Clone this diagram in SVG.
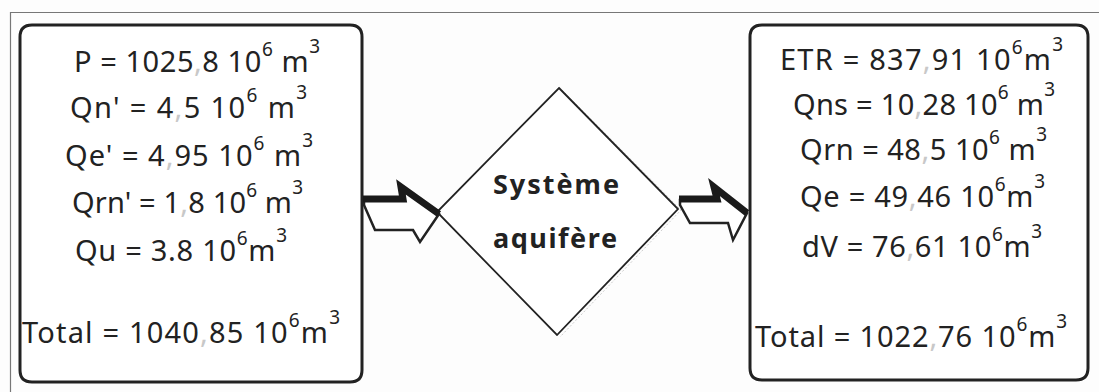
<svg xmlns="http://www.w3.org/2000/svg" width="1099" height="392" viewBox="0 0 1099 392">
  <style>
    .frame { fill: none; stroke: #777; stroke-width: 1.2; }
    .box { fill: #fff; stroke: #222; stroke-width: 3; }
    .diamond { fill: #fff; stroke: #222; stroke-width: 1.8; }
    .t { font-family: "Noto Sans", "DejaVu Sans", sans-serif; font-size: 29px; fill: #222; }
    .sup { font-size: 19px; }
    .sep { fill: #c8c8c8; }
    .lbl { font-family: "Noto Sans", "DejaVu Sans", sans-serif; font-size: 27px; font-weight: bold; fill: #222; }
    .arrow-body { fill: #fff; stroke: #222; stroke-width: 2.5; stroke-linejoin: miter; }
    .arrow-edge { fill: none; stroke: #1a1a1a; stroke-width: 7; stroke-linejoin: miter; }
  </style>

  <rect width="1099" height="392" fill="#fdfdfd"/>

  <!-- outer page frame -->
  <path class="frame" d="M10.5,392 V12.5 H1099"/>

  <!-- inflows -->
  <g id="inflows">
    <path class="box" d="M32,25 H350 Q362,25 362,37 V370 Q362,382 350,382 H32 Q20,382 20,370 V37 Q20,25 32,25 Z"/>
    <text class="t" x="74" y="72" textLength="246" lengthAdjust="spacing">P = 1025<tspan class="sep">,</tspan>8 10<tspan class="sup" dy="-16">6</tspan><tspan dy="16"> m</tspan><tspan class="sup" dy="-19">3</tspan></text>
    <text class="t" x="70" y="118" textLength="237" lengthAdjust="spacing">Qn' = 4<tspan class="sep">,</tspan>5 10<tspan class="sup" dy="-16">6</tspan><tspan dy="16"> m</tspan><tspan class="sup" dy="-19">3</tspan></text>
    <text class="t" x="65" y="166" textLength="248" lengthAdjust="spacing">Qe' = 4<tspan class="sep">,</tspan>95 10<tspan class="sup" dy="-16">6</tspan><tspan dy="16"> m</tspan><tspan class="sup" dy="-19">3</tspan></text>
    <text class="t" x="72" y="213" textLength="231" lengthAdjust="spacing">Qrn' = 1<tspan class="sep">,</tspan>8 10<tspan class="sup" dy="-16">6</tspan><tspan dy="16"> m</tspan><tspan class="sup" dy="-19">3</tspan></text>
    <text class="t" x="75" y="261" textLength="212" lengthAdjust="spacing">Qu = 3.8 10<tspan class="sup" dy="-16">6</tspan><tspan dy="16">m</tspan><tspan class="sup" dy="-19">3</tspan></text>
    <text class="t" x="22" y="343" textLength="318" lengthAdjust="spacing">Total = 1040<tspan class="sep">,</tspan>85 10<tspan class="sup" dy="-16">6</tspan><tspan dy="16">m</tspan><tspan class="sup" dy="-19">3</tspan></text>
  </g>

  <!-- aquifer system -->
  <g id="aquifer">
    <path d="M562,90 L681,210 L560,337" fill="none" stroke="#ccc" stroke-width="1" stroke-dasharray="2 2"/>
    <polygon class="diamond" points="559,88 678,209 557,335 437,212"/>
    <text class="lbl" x="556" y="194" text-anchor="middle" textLength="126" lengthAdjust="spacing">Système</text>
    <text class="lbl" x="555" y="248" text-anchor="middle" textLength="124" lengthAdjust="spacing">aquifère</text>
  </g>

  <!-- outflows -->
  <g id="outflows">
    <path class="box" d="M762,25 H1076 Q1088,25 1088,37 V368 Q1088,380 1076,380 H762 Q750,380 750,368 V37 Q750,25 762,25 Z"/>
    <text class="t" x="780" y="70" textLength="283" lengthAdjust="spacing">ETR = 837<tspan class="sep">,</tspan>91 10<tspan class="sup" dy="-16">6</tspan><tspan dy="16">m</tspan><tspan class="sup" dy="-19">3</tspan></text>
    <text class="t" x="793" y="115" textLength="262" lengthAdjust="spacing">Qns = 10<tspan class="sep">,</tspan>28 10<tspan class="sup" dy="-16">6</tspan><tspan dy="16"> m</tspan><tspan class="sup" dy="-19">3</tspan></text>
    <text class="t" x="800" y="160" textLength="247" lengthAdjust="spacing">Qrn = 48<tspan class="sep">,</tspan>5 10<tspan class="sup" dy="-16">6</tspan><tspan dy="16"> m</tspan><tspan class="sup" dy="-19">3</tspan></text>
    <text class="t" x="800" y="207" textLength="245" lengthAdjust="spacing">Qe = 49<tspan class="sep">,</tspan>46 10<tspan class="sup" dy="-16">6</tspan><tspan dy="16">m</tspan><tspan class="sup" dy="-19">3</tspan></text>
    <text class="t" x="802" y="257" textLength="240" lengthAdjust="spacing">dV = 76<tspan class="sep">,</tspan>61 10<tspan class="sup" dy="-16">6</tspan><tspan dy="16">m</tspan><tspan class="sup" dy="-19">3</tspan></text>
    <text class="t" x="755" y="347" textLength="312" lengthAdjust="spacing">Total = 1022<tspan class="sep">,</tspan>76 10<tspan class="sup" dy="-16">6</tspan><tspan dy="16">m</tspan><tspan class="sup" dy="-19">3</tspan></text>
  </g>

  <!-- block arrows between the nodes -->
  <g id="connectors">
    <polygon class="arrow-body" points="364,200 402,200 400,186 439,214 420,242 413,230 375,230 364,205"/>
    <polyline class="arrow-edge" points="363,199 403,199 401,187 439,214"/>
    <polygon class="arrow-body" points="680,200 716,200 713,186 747,213 733,240 728,223 690,223 680,205"/>
    <polyline class="arrow-edge" points="679,199 717,199 714,187 747,213"/>
  </g>
</svg>
